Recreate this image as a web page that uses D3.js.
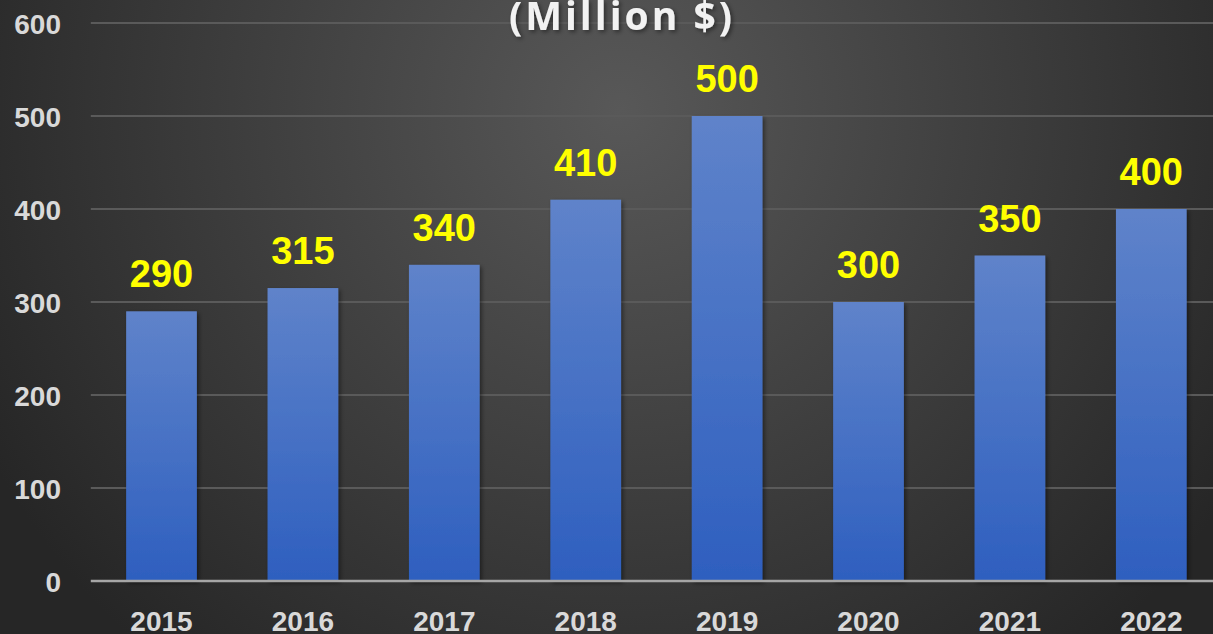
<!DOCTYPE html>
<html><head><meta charset="utf-8">
<script src="https://cdn.jsdelivr.net/npm/d3@7"></script>
<style>html,body{margin:0;padding:0;overflow:hidden;background:#333;}</style>
</head><body>
<svg id="c" width="1213" height="634"></svg>
<script>
const years = ["2015","2016","2017","2018","2019","2020","2021","2022"];
const values = [290, 315, 340, 410, 500, 300, 350, 400];
const yTicks = [0, 100, 200, 300, 400, 500, 600];
const titleText = "(Million $)";

(function(){
const W = 1213, H = 634;
const svg = d3.select("#c");
const defs = svg.append("defs");
const bg = defs.append("radialGradient").attr("id","bg").attr("gradientUnits","userSpaceOnUse")
  .attr("cx",620).attr("cy",110).attr("r",720);
bg.append("stop").attr("offset","0").attr("stop-color","#585858");
bg.append("stop").attr("offset","1").attr("stop-color","#262626");
const bar = defs.append("linearGradient").attr("id","bar").attr("x1",0).attr("y1",0).attr("x2",0).attr("y2",1);
bar.append("stop").attr("offset","0").attr("stop-color","#5f83ca");
bar.append("stop").attr("offset","1").attr("stop-color","#2e5fbf");
const sh = defs.append("filter").attr("id","sh").attr("x","-20%").attr("y","-20%").attr("width","140%").attr("height","140%");
sh.append("feDropShadow").attr("dx",2).attr("dy",2).attr("stdDeviation",2).attr("flood-color","#000").attr("flood-opacity",0.45);

svg.append("rect").attr("width",W).attr("height",H).attr("fill","url(#bg)");

const pLeft = 90.8, pRight = 1222, pTop = 23, pBottom = 581;
const x = d3.scaleBand().domain(years).range([pLeft, pRight]).paddingInner(0.5).paddingOuter(0.25);
const y = d3.scaleLinear().domain([0, 600]).range([pBottom, pTop]);

svg.append("g").selectAll("line").data(yTicks.filter(d=>d>0)).join("line")
  .attr("x1", pLeft).attr("x2", W).attr("y1", d=>y(d)).attr("y2", d=>y(d))
  .attr("stroke","#5a5a5a").attr("stroke-width",2);

const yAxis = d3.axisLeft(y).tickValues(yTicks).tickSize(0).tickPadding(0);
const gy = svg.append("g").attr("transform",`translate(61,0)`).call(yAxis);
gy.select(".domain").remove();
gy.selectAll("text").attr("fill","#d9d9d9").attr("font-family","Liberation Sans, Arial, sans-serif")
  .attr("font-weight","bold").attr("font-size","28px").attr("dy","0.36em");

svg.append("g").selectAll("rect").data(values).join("rect")
  .attr("x",(d,i)=>x(years[i])).attr("width",x.bandwidth())
  .attr("y",d=>y(d)).attr("height",d=>y(0)-y(d))
  .attr("fill","url(#bar)").attr("filter","url(#sh)");

svg.append("line").attr("x1",pLeft).attr("x2",W).attr("y1",y(0)).attr("y2",y(0))
  .attr("stroke","#a6a6a6").attr("stroke-width",2.5);

const xAxis = d3.axisBottom(x).tickSize(0).tickPadding(0);
const gx = svg.append("g").attr("transform",`translate(0,${pBottom})`).call(xAxis);
gx.select(".domain").remove();
gx.selectAll("text").attr("fill","#d9d9d9").attr("font-family","Liberation Sans, Arial, sans-serif")
  .attr("font-weight","bold").attr("font-size","28px").attr("y",50).attr("dy",0);

svg.append("g").selectAll("text").data(values).join("text")
  .attr("x",(d,i)=>x(years[i])+x.bandwidth()/2).attr("y",d=>y(d)-24)
  .attr("text-anchor","middle").attr("fill","#ffff00")
  .attr("font-family","Liberation Sans, Arial, sans-serif").attr("font-weight","bold").attr("font-size","38px")
  .text(d=>d);

svg.append("text").attr("x",622).attr("y",30).attr("text-anchor","middle")
  .attr("fill","#f2f2f2").attr("font-family","Open Sans, sans-serif").attr("font-weight","bold")
  .attr("font-size","39px").attr("letter-spacing","3px").attr("filter","url(#sh)").text(titleText);
})();
</script>
</body></html>
